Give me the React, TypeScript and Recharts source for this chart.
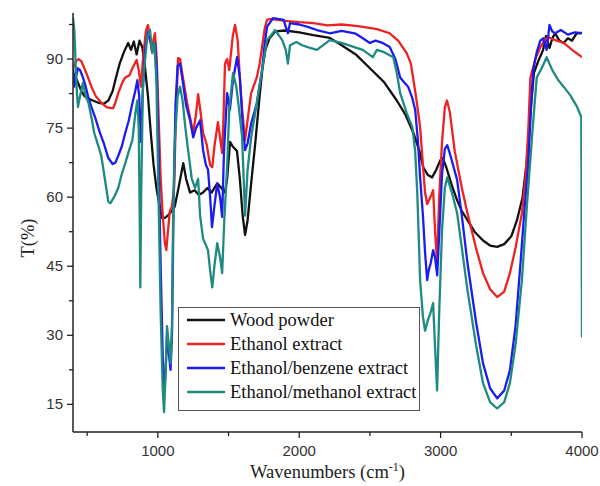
import { LineChart, Line, XAxis, YAxis, Legend, Label } from "recharts";

// FTIR spectra, [wavenumber (cm-1), T (%)]
const woodPowder: [number, number][] = [
  [400, 87], [420, 86], [440, 84.5], [460, 83], [480, 82], [500, 81.5], [540, 81], [580, 80.5],
  [620, 80.3], [650, 81], [680, 83], [700, 85.5], [730, 89], [760, 91.5], [790, 93.5], [810, 92],
  [830, 93.8], [850, 91], [870, 94], [890, 92.6], [910, 88], [930, 82], [950, 74], [970, 67],
  [990, 62], [1010, 58.5], [1030, 55.5], [1050, 55.5], [1070, 56], [1100, 57], [1120, 58],
  [1143, 61.5], [1165, 65], [1180, 67.4], [1200, 64], [1228, 61], [1260, 61.5], [1290, 60.5],
  [1320, 61], [1350, 62], [1380, 61], [1420, 63], [1450, 62], [1475, 61], [1490, 64], [1511, 72],
  [1530, 71], [1560, 70], [1580, 64], [1600, 56], [1617, 51.8], [1635, 55], [1660, 63], [1690, 72],
  [1720, 82], [1740, 88], [1760, 92], [1790, 94.5], [1830, 96], [1900, 96.2], [2000, 95.8],
  [2100, 95.2], [2216, 94.6], [2300, 93], [2400, 91], [2500, 88], [2600, 85], [2690, 81],
  [2750, 78], [2807, 74], [2850, 70], [2877, 66.5], [2910, 64.8], [2940, 64.3], [2970, 66],
  [2997, 68], [3015, 68.5], [3040, 66.5], [3080, 62.5], [3117, 59.3], [3150, 57], [3190, 55],
  [3240, 52.5], [3300, 50.6], [3350, 49.5], [3400, 49.2], [3450, 49.8], [3500, 51.5], [3540, 55],
  [3580, 60], [3610, 68], [3640, 80], [3660, 87], [3690, 89.5], [3725, 92], [3745, 95], [3770, 92.4],
  [3790, 94.5], [3810, 95.6], [3840, 94], [3870, 93.5], [3900, 94.5], [3930, 94], [3960, 95.5],
  [4000, 95.7],
];

const ethanolExtract: [number, number][] = [
  [400, 88], [420, 89.5], [440, 90], [460, 89.5], [480, 88], [500, 86.5], [530, 84], [560, 82],
  [600, 80.5], [640, 79.5], [683, 79.3], [700, 80.5], [720, 82.6], [750, 85], [770, 86], [800, 86.5],
  [820, 88], [850, 89.8], [865, 87.6], [880, 84], [895, 90], [915, 96], [930, 97.4], [945, 95],
  [955, 92], [968, 94], [980, 95.6], [992, 90], [1005, 78], [1020, 64], [1035, 56], [1050, 50],
  [1060, 48.5], [1070, 52], [1085, 57], [1100, 58], [1115, 62], [1128, 78], [1143, 90.2], [1157, 90],
  [1180, 85.5], [1210, 80], [1250, 74], [1270, 78], [1285, 82.4], [1300, 79], [1320, 74],
  [1345, 71.5], [1370, 67], [1385, 66.5], [1400, 71], [1425, 76.3], [1440, 73], [1455, 69.6],
  [1465, 78], [1475, 89], [1490, 90], [1505, 87.6], [1530, 95], [1546, 97.4], [1565, 94],
  [1580, 86], [1596, 79], [1617, 72.4], [1640, 78], [1660, 82.6], [1700, 86], [1720, 89],
  [1737, 92.6], [1755, 96.5], [1772, 98.5], [1800, 98.7], [1850, 98.5], [1900, 98.3], [2000, 98],
  [2100, 97.8], [2200, 97.3], [2300, 97.5], [2400, 97.2], [2450, 97], [2550, 96.5], [2640, 95.6],
  [2700, 94], [2760, 91.3], [2790, 89], [2805, 86], [2830, 81], [2855, 75.2], [2875, 67],
  [2890, 61], [2905, 58.5], [2920, 59.5], [2935, 60.5], [2947, 61.5], [2962, 52], [2975, 46],
  [2990, 60], [3010, 72], [3030, 79.5], [3045, 81], [3065, 78.5], [3100, 70], [3150, 62],
  [3190, 56.5], [3250, 49], [3300, 43.5], [3350, 40], [3400, 38.3], [3450, 39.5], [3490, 43.5],
  [3530, 49], [3575, 56.5], [3600, 64], [3620, 74.6], [3635, 86], [3670, 90], [3705, 92.6],
  [3735, 94], [3760, 94.8], [3800, 94.2], [3870, 93.5], [3930, 92], [4000, 90.4],
];

const benzeneExtract: [number, number][] = [
  [400, 88], [410, 84], [420, 86], [435, 88], [450, 87.6], [470, 86], [490, 84], [510, 81.5],
  [530, 79.6], [560, 77], [590, 74], [620, 71.5], [650, 68.5], [680, 67.2], [700, 67.5], [720, 69],
  [745, 71], [770, 74], [795, 76.7], [820, 80.4], [840, 83], [855, 85.4], [868, 82], [880, 72],
  [892, 82], [910, 92], [930, 95.9], [945, 94], [960, 92.6], [980, 93.5], [992, 88], [1005, 70],
  [1020, 45], [1035, 25], [1045, 18], [1055, 22], [1065, 30], [1078, 26], [1090, 22.5], [1100, 30],
  [1112, 60], [1125, 80], [1140, 88.5], [1157, 89], [1175, 85.4], [1200, 80], [1228, 76.7],
  [1250, 73], [1270, 75], [1299, 76.7], [1320, 70.2], [1340, 67], [1355, 66], [1370, 60],
  [1383, 53.5], [1400, 58], [1420, 63], [1440, 60], [1455, 55.7], [1468, 70], [1490, 82.6],
  [1510, 79], [1530, 85], [1560, 90.4], [1580, 86], [1600, 76], [1617, 70.2], [1635, 71.7],
  [1660, 76], [1700, 80.4], [1737, 87.6], [1755, 93], [1772, 97], [1815, 98.9], [1850, 98.7],
  [1890, 98.5], [1905, 97], [1920, 95.6], [1935, 97.8], [2000, 97.5], [2060, 97], [2125, 96.3],
  [2216, 95.6], [2300, 96.1], [2400, 95.5], [2450, 94.5], [2500, 93.5], [2540, 94], [2590, 93.5],
  [2640, 92.6], [2680, 90], [2714, 86], [2740, 85], [2770, 84], [2800, 81.5], [2820, 79],
  [2840, 72], [2855, 64.3], [2875, 56], [2890, 48], [2905, 42], [2915, 44], [2930, 45.7],
  [2947, 48.5], [2960, 47], [2976, 43], [2990, 52], [3010, 65], [3030, 70.5], [3047, 71.3],
  [3070, 69], [3117, 63.7], [3150, 56], [3190, 45.7], [3250, 33], [3300, 23.9], [3350, 18.5],
  [3400, 16.3], [3450, 18], [3490, 22.4], [3530, 32], [3565, 45.7], [3595, 58], [3620, 67.4],
  [3640, 80], [3655, 87.6], [3680, 91.5], [3705, 94], [3725, 94.5], [3750, 92], [3770, 97.4],
  [3790, 96], [3810, 95.6], [3850, 96.3], [3900, 95.3], [3950, 95.8], [4000, 95.6],
];

const methanolExtract: [number, number][] = [
  [400, 99], [410, 96], [420, 88], [428, 82.6], [435, 79.6], [450, 82], [470, 84.8], [490, 82],
  [510, 80.4], [530, 77.4], [550, 74], [570, 72], [600, 69], [625, 64], [650, 59], [665, 58.7],
  [690, 60], [720, 62], [745, 65], [770, 67.4], [795, 70], [820, 72.4], [840, 78], [855, 81],
  [865, 75], [872, 55], [876, 40.4], [882, 60], [895, 85], [925, 94.8], [945, 96.3], [960, 91.3],
  [975, 93.5], [990, 85], [1005, 60], [1020, 35], [1035, 18], [1044, 13.3], [1055, 22], [1065, 32],
  [1078, 28], [1090, 23.9], [1100, 32], [1108, 55], [1120, 72], [1140, 82], [1157, 84], [1175, 81],
  [1195, 75], [1215, 70], [1240, 64], [1263, 62], [1285, 64], [1299, 56], [1320, 51], [1355, 48.5],
  [1370, 44], [1385, 40.4], [1400, 45], [1420, 50], [1440, 47], [1455, 43.5], [1470, 55],
  [1490, 66.5], [1505, 79], [1532, 87], [1555, 84], [1575, 79], [1596, 73], [1617, 56], [1635, 66],
  [1660, 73], [1700, 80.4], [1737, 87.6], [1772, 94.1], [1830, 96.3], [1880, 94.1], [1905, 92],
  [1920, 89], [1935, 93], [1980, 93.7], [2020, 93], [2060, 92.6], [2125, 92], [2216, 94.1],
  [2300, 93.5], [2400, 92.5], [2450, 92], [2520, 90.4], [2550, 92], [2600, 91.5], [2665, 90.4],
  [2690, 87], [2714, 82.6], [2760, 78.3], [2800, 75.2], [2820, 70], [2835, 60.9], [2855, 42],
  [2875, 34], [2890, 31], [2910, 33.3], [2930, 35], [2947, 37], [2960, 28], [2975, 18], [2990, 35],
  [3010, 52.8], [3030, 62], [3047, 64.3], [3080, 61], [3117, 56.5], [3150, 49], [3190, 39.8],
  [3250, 28], [3300, 19.6], [3350, 15.5], [3400, 14.1], [3450, 15.5], [3490, 19.6], [3530, 28],
  [3575, 42], [3610, 58], [3650, 74.6], [3680, 86], [3715, 88], [3750, 90.4], [3790, 87.6],
  [3830, 85.5], [3870, 84], [3920, 82], [3965, 79.6], [3995, 77.4], [4000, 29.5],
];

const seriesNames = [
  "Wood powder",
  "Ethanol extract",
  "Ethanol/benzene extract",
  "Ethanol/methanol extract",
];
const seriesColors = ["#111111", "#ee2222", "#1c1cee", "#1f8a82"];
const seriesValues = [woodPowder, ethanolExtract, benzeneExtract, methanolExtract];

const xTicks = [500, 1000, 1500, 2000, 2500, 3000, 3500, 4000];
const yTicks = [15, 22.5, 30, 37.5, 45, 52.5, 60, 67.5, 75, 82.5, 90, 97.5];

const series = seriesNames.map((name, i) => ({
  name,
  color: seriesColors[i],
  data: seriesValues[i].map(([wn, t]) => ({ wn, t })),
}));

const tickFont = '"Liberation Sans", Arial, sans-serif';
const titleFont = '"Liberation Serif", "Times New Roman", serif';

const XTick = (props: any) => {
  const { x, y, payload } = props;
  const major = payload.value % 1000 === 0;
  return (
    <g>
      <line x1={x} y1={y} x2={x} y2={y + (major ? 6 : 4)} stroke="#222" strokeWidth={1.3} />
      {major && (
        <text x={x} y={y + 24} textAnchor="middle" fontSize={15} fill="#333" fontFamily={tickFont}>
          {payload.value}
        </text>
      )}
    </g>
  );
};

const YTick = (props: any) => {
  const { x, y, payload } = props;
  const major = payload.value % 15 === 0;
  return (
    <g>
      <line x1={x} y1={y} x2={x - (major ? 6 : 4)} y2={y} stroke="#222" strokeWidth={1.3} />
      {major && (
        <text x={x - 10} y={y + 5} textAnchor="end" fontSize={15} fill="#333" fontFamily={tickFont}>
          {payload.value}
        </text>
      )}
    </g>
  );
};

const LegendBox = () => (
  <div
    style={{
      border: "1px solid #555",
      background: "#fff",
      width: 242,
      height: 104,
      boxSizing: "border-box",
      paddingLeft: 8,
      fontFamily: titleFont,
      fontSize: 18.5,
      color: "#111",
    }}
  >
    {series.map((s) => (
      <div key={s.name} style={{ display: "flex", alignItems: "center", height: 24, whiteSpace: "nowrap" }}>
        <svg width={38} height={4} style={{ flexShrink: 0 }}>
          <line x1={0} y1={2} x2={38} y2={2} stroke={s.color} strokeWidth={2.6} />
        </svg>
        <span style={{ marginLeft: 5 }}>{s.name}</span>
      </div>
    ))}
  </div>
);

export default function App() {
  return (
    <div style={{ position: "absolute", left: 0, top: 0, width: 600, height: 486, background: "#fff" }}>
      <LineChart width={600} height={486} margin={{ top: 13, right: 18, bottom: 0, left: 0 }}>
        <XAxis
          dataKey="wn"
          type="number"
          domain={[400, 4000]}
          ticks={xTicks}
          interval={0}
          allowDataOverflow
          height={54}
          tickSize={0}
          tickMargin={0}
          tick={<XTick />}
          axisLine={{ stroke: "#222", strokeWidth: 1.5 }}
        >
          <Label
            content={(p: any) => {
              const vb = p.viewBox;
              return (
                <text x={vb.x + vb.width / 2} y={vb.y + 46} textAnchor="middle" fontSize={18.5} fill="#222" fontFamily={titleFont}>
                  Wavenumbers (cm
                  <tspan dy={-7} fontSize={12}>-1</tspan>
                  <tspan dy={7}>)</tspan>
                </text>
              );
            }}
          />
        </XAxis>
        <XAxis
          xAxisId="top"
          orientation="top"
          type="number"
          domain={[400, 4000]}
          height={0}
          tick={false}
          tickLine={false}
          axisLine={{ stroke: "#222", strokeWidth: 1.5 }}
        />
        <YAxis
          type="number"
          domain={[9, 100]}
          ticks={yTicks}
          interval={0}
          allowDataOverflow
          width={73}
          tickSize={0}
          tickMargin={0}
          tick={<YTick />}
          axisLine={{ stroke: "#222", strokeWidth: 1.5 }}
        >
          <Label
            content={(p: any) => {
              const vb = p.viewBox;
              const cx = vb.x + 28;
              const cy = 238;
              return (
                <text x={cx} y={cy} transform={`rotate(-90 ${cx} ${cy})`} textAnchor="middle" dominantBaseline="central" fontSize={18.5} fill="#222" fontFamily={titleFont}>
                  T(%)
                </text>
              );
            }}
          />
        </YAxis>
        <YAxis
          yAxisId="right"
          orientation="right"
          type="number"
          domain={[9, 100]}
          width={0}
          tick={false}
          tickLine={false}
          axisLine={{ stroke: "#222", strokeWidth: 1.5 }}
        />
        {series.map((s) => (
          <Line
            key={s.name}
            data={s.data}
            dataKey="t"
            name={s.name}
            type="linear"
            stroke={s.color}
            strokeWidth={2.3}
            strokeLinejoin="round"
            dot={false}
            activeDot={false}
            isAnimationActive={false}
          />
        ))}
        <Legend
          layout="vertical"
          align="center"
          verticalAlign="middle"
          content={<LegendBox />}
          wrapperStyle={{ position: "absolute", left: 178, top: 307, width: 242, height: 104 }}
        />
      </LineChart>
    </div>
  );
}
